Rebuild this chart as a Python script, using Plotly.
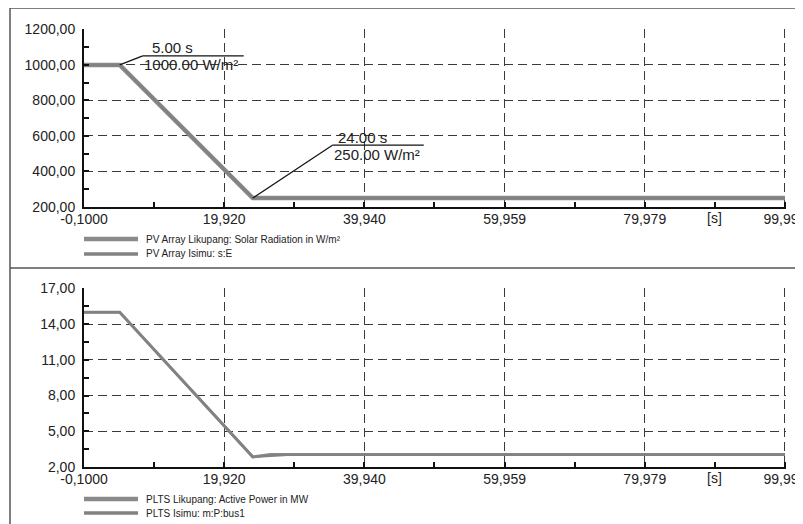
import plotly.graph_objects as go

# page is shown with an 8px body margin; figure sized/positioned to compensate
OFF = 8
FW, FH = 803 - OFF, 524 - OFF

# ---- data ----
t_rad = [-0.1, 5.0, 24.0, 99.999]
rad_likupang = [1000.0, 1000.0, 250.0, 250.0]
rad_isimu = [1000.0, 1000.0, 250.0, 250.0]

t_p_likupang = [-0.1, 5.0, 24.0, 26.5, 99.999]
p_likupang = [15.0, 15.0, 2.85, 3.05, 3.05]
t_p_isimu = [-0.1, 5.0, 24.0, 29.0, 99.999]
p_isimu = [15.0, 15.0, 2.85, 3.02, 3.02]

x_tickvals = [-0.1, 19.92, 39.94, 59.959, 79.979, 99.999]
x_ticktext = ["-0,1000", "19,920", "39,940", "59,959", "79,979", "99,999"]
x_minor = [9.91, 29.93, 49.95, 69.969, 89.989]

y1_tickvals = [200, 400, 600, 800, 1000, 1200]
y1_ticktext = ["200,00", "400,00", "600,00", "800,00", "1000,00", "1200,00"]
y1_minor = [300, 500, 700, 900, 1100]

y2_tickvals = [2, 5, 8, 11, 14, 17]
y2_ticktext = ["2,00", "5,00", "8,00", "11,00", "14,00", "17,00"]
y2_minor = [3.5, 6.5, 9.5, 12.5, 15.5]

ann_t = [5.0, 24.0]
ann_v = [1000.0, 250.0]
ann_top = ["5.00 s", "24.00 s"]
ann_bottom = ["1000.00 W/m²", "250.00 W/m²"]

names_top = ["PV Array Likupang: Solar Radiation in W/m²", "PV Array Isimu: s:E"]
names_bot = ["PLTS Likupang: Active Power in MW", "PLTS Isimu: m:P:bus1"]

FONT = "Liberation Sans, Arial, sans-serif"
GRID = "#3a3a3a"
C1, C2 = "#8a8a8a", "#828282"


def px(x):
    return (x - OFF) / FW


def py(y):
    return 1 - (y - OFF) / FH


fig = go.Figure()
fig.add_trace(go.Scatter(x=t_rad, y=rad_likupang, mode="lines", name=names_top[0],
                         line=dict(color=C1, width=4.5), xaxis="x", yaxis="y"))
fig.add_trace(go.Scatter(x=t_rad, y=rad_isimu, mode="lines", name=names_top[1],
                         line=dict(color=C2, width=2.5), xaxis="x", yaxis="y"))
fig.add_trace(go.Scatter(x=t_p_likupang, y=p_likupang, mode="lines", name=names_bot[0],
                         line=dict(color=C1, width=3), xaxis="x2", yaxis="y2"))
fig.add_trace(go.Scatter(x=t_p_isimu, y=p_isimu, mode="lines", name=names_bot[1],
                         line=dict(color=C2, width=2.5), xaxis="x2", yaxis="y2"))

xdom = [px(84), px(786)]


def xaxis(anchor):
    return dict(domain=xdom, anchor=anchor, range=[-0.1, 100.15], tickmode="array",
                tickvals=x_tickvals, ticktext=x_ticktext, ticks="inside", ticklen=5,
                tickcolor="#111", tickwidth=1.5, automargin=False, ticklabelstandoff=-2,
                ticklabeloverflow="allow",
                showline=True, linecolor="#111", linewidth=2, zeroline=False,
                showgrid=True, gridcolor=GRID, gridwidth=1.2, griddash="9px,5px",
                minor=dict(tickvals=x_minor, ticks="inside", ticklen=5, tickcolor="#111", showgrid=False),
                tickfont=dict(family=FONT, size=14, color="#222"), fixedrange=True)


def yaxis(anchor, dom, rng, tv, tt, mn):
    return dict(domain=dom, anchor=anchor, range=rng, tickmode="array", tickvals=tv, ticktext=tt,
                ticks="inside", ticklen=5, tickcolor="#111", tickwidth=1.5, automargin=False,
                showline=True, linecolor="#111", linewidth=2, zeroline=False,
                showgrid=True, gridcolor=GRID, gridwidth=1.2, griddash="9px,5px",
                minor=dict(tickvals=mn, ticks="inside", ticklen=5, tickcolor="#111", showgrid=False),
                ticklabelstandoff=4,
                tickfont=dict(family=FONT, size=14, color="#222"), fixedrange=True)


shapes = []
annotations = []
# leader lines and labels (pixel offsets from the annotated data point)
offsets = [(23, 9, 124), (80, 53, 171)]
text_dx = [(31, 23), (84, 80)]
for i in range(2):
    dx, dy, hx = offsets[i]
    common = dict(type="line", xref="x", yref="y", xsizemode="pixel", ysizemode="pixel",
                  xanchor=ann_t[i], yanchor=ann_v[i], line=dict(color="#111", width=1.2))
    shapes.append(dict(common, x0=0, y0=0, x1=dx, y1=dy))
    shapes.append(dict(common, x0=dx, y0=dy, x1=hx, y1=dy))
    annotations.append(dict(xref="x", yref="y", x=ann_t[i], y=ann_v[i], text=ann_top[i], showarrow=False,
                            xanchor="left", yanchor="middle", xshift=text_dx[i][0], yshift=dy + 8,
                            borderpad=0, font=dict(family=FONT, size=15, color="#222")))
    annotations.append(dict(xref="x", yref="y", x=ann_t[i], y=ann_v[i], text=ann_bottom[i], showarrow=False,
                            xanchor="left", yanchor="middle", xshift=text_dx[i][1], yshift=dy - 9,
                            borderpad=0, font=dict(family=FONT, size=15, color="#222")))

for xr, ypx in (("x", 218), ("x2", 478)):
    annotations.append(dict(xref=xr, yref="paper", x=x_minor[-1], y=py(ypx), text="[s]", showarrow=False,
                            xanchor="center", yanchor="middle", font=dict(family=FONT, size=14, color="#222")))

# legends drawn below each panel
legend_rows = [(names_top, [239, 254]), (names_bot, [499, 513])]
for names, rows in legend_rows:
    for j, (nm, ypx) in enumerate(zip(names, rows)):
        shapes.append(dict(type="line", xref="paper", yref="paper", x0=px(84), x1=px(138), y0=py(ypx), y1=py(ypx),
                           line=dict(color=[C1, C2][j], width=[4.5, 3.5][j])))
        annotations.append(dict(xref="paper", yref="paper", x=px(145), y=py(ypx), text=nm, showarrow=False,
                                xanchor="left", yanchor="middle", borderpad=0,
                                font=dict(family=FONT, size=10, color="#222")))

# outer frame and separator
FR = dict(color="#555", width=1.5)
shapes.append(dict(type="line", xref="paper", yref="paper", x0=px(10), x1=px(10), y0=0, y1=py(8), line=FR))
shapes.append(dict(type="line", xref="paper", yref="paper", x0=px(10), x1=1, y0=py(8), y1=py(8), line=FR))
shapes.append(dict(type="line", xref="paper", yref="paper", x0=px(10), x1=1, y0=py(268), y1=py(268), line=FR))

fig.update_layout(
    width=FW, height=FH, margin=dict(l=0, r=0, t=0, b=0),
    paper_bgcolor="white", plot_bgcolor="white",
    xaxis=xaxis("y"),
    yaxis=yaxis("x", [py(207), py(29)], [200, 1202], y1_tickvals, y1_ticktext, y1_minor),
    xaxis2=xaxis("y2"),
    yaxis2=yaxis("x2", [py(467), py(288)], [2, 17.03], y2_tickvals, y2_ticktext, y2_minor),
    shapes=shapes, annotations=annotations, showlegend=False,
)

fig.write_html("out.html")
